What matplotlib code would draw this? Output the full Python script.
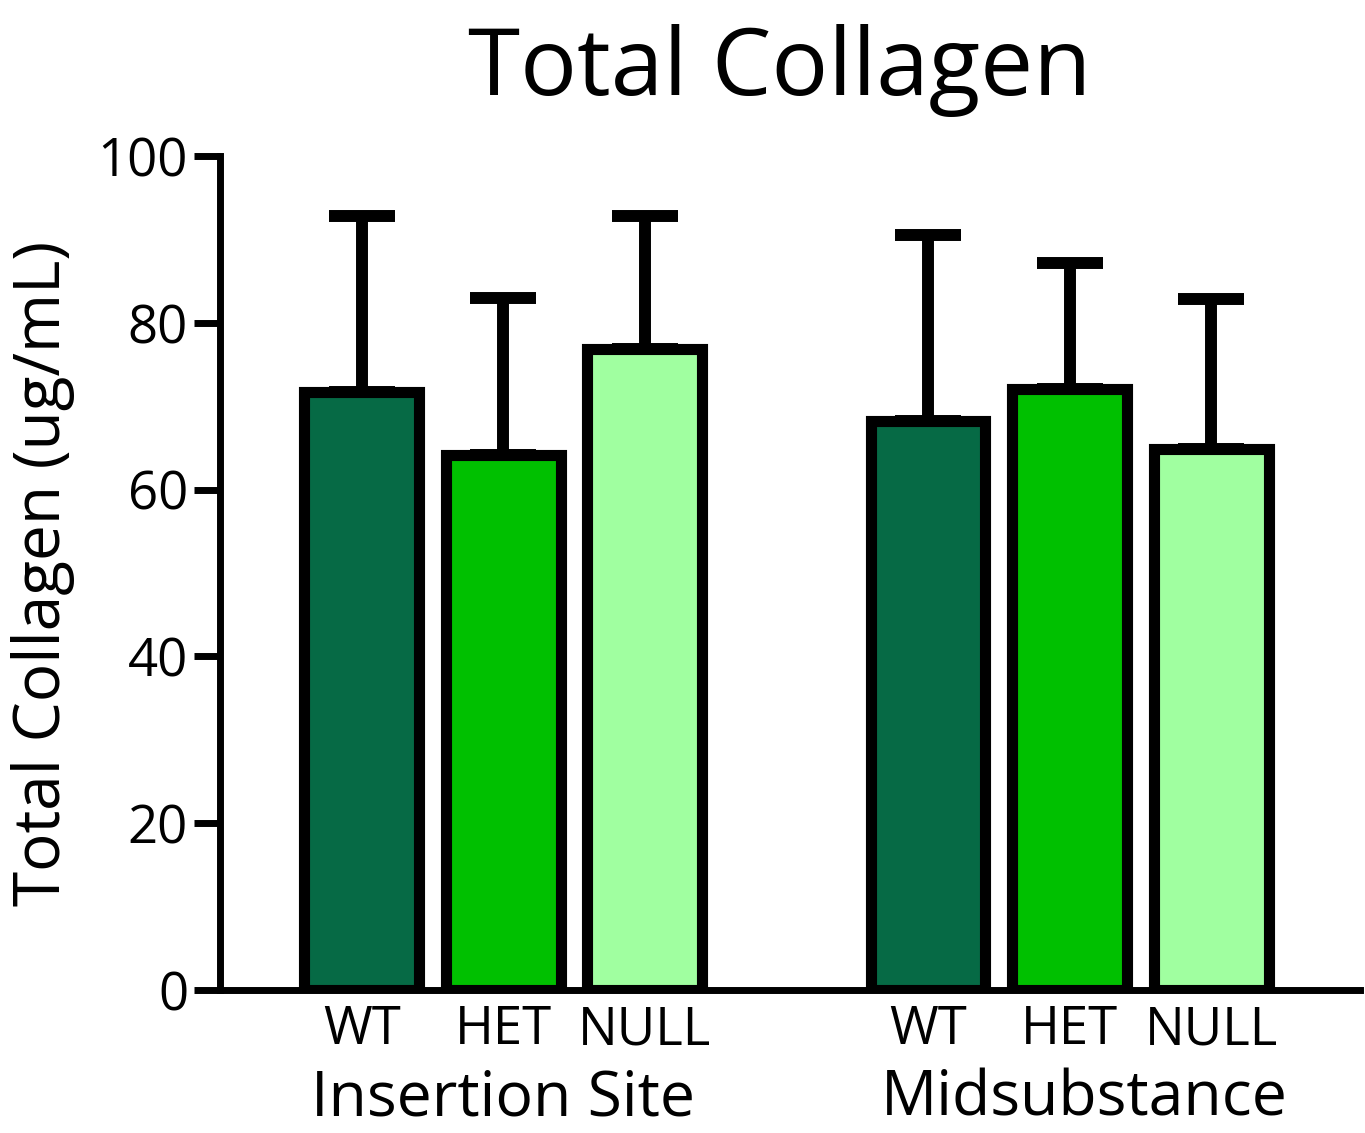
import matplotlib.pyplot as plt
from matplotlib import transforms

# values
groups = ["Insertion Site", "Midsubstance"]
genotypes = ["WT", "HET", "NULL"]
means = [71.7, 64.2, 76.9, 68.2, 72.1, 64.9]
errors = [21.1, 18.8, 15.9, 22.3, 15.1, 18.0]
colors = ["#066a45", "#00c000", "#a0ffa0"]

plt.rcParams["font.family"] = ["Open Sans", "DejaVu Sans"]

fig = plt.figure(figsize=(13.65, 11.33), dpi=100)
ax = fig.add_axes([220 / 1365, 143 / 1133, 1140 / 1365, 834 / 1133])

pos = [0, 1, 2, 4, 5, 6]
bar_colors = colors * 2
ax.errorbar(pos, means, yerr=[[0] * 6, errors], fmt="none", ecolor="black",
            elinewidth=8.6, capsize=24, capthick=8.6, zorder=1)
ax.bar(pos, means, width=0.81, color=bar_colors, edgecolor="black",
       linewidth=8, zorder=2)

ax.set_xlim(-1.0, 7.05)
ax.set_ylim(0, 100)
ax.set_yticks([0, 20, 40, 60, 80, 100])
ax.set_xticks(pos)
ax.set_xticklabels(genotypes * 2)
ax.tick_params(axis="x", length=0, labelsize=38, pad=10)
ax.tick_params(axis="y", length=19, width=5, labelsize=38, pad=4)

for s in ["top", "right"]:
    ax.spines[s].set_visible(False)
for s in ["left", "bottom"]:
    ax.spines[s].set_linewidth(5)

# group names under the genotype labels
trans = transforms.blended_transform_factory(ax.transData, fig.transFigure)
ax.text(1, 17 / 1133, groups[0], transform=trans, ha="center", va="baseline", fontsize=45)
ax.text(5.1, 17 / 1133, groups[1], transform=trans, ha="center", va="baseline", fontsize=45)

ax.set_ylabel("Total Collagen (ug/mL)", fontsize=46, labelpad=16)
fig.text(780 / 1365, 1 - 95 / 1133, "Total Collagen", ha="center", va="baseline", fontsize=68)

fig.savefig("out.png", dpi=100)
